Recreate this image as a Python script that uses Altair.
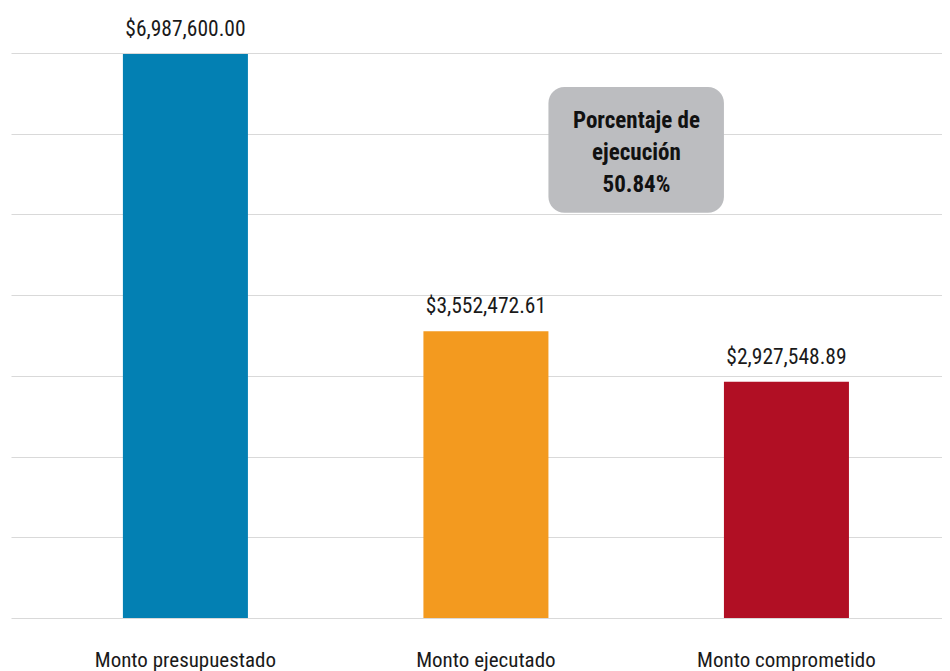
import altair as alt
import pandas as pd

categorias = ["Monto presupuestado", "Monto ejecutado", "Monto comprometido"]
montos = [6987600.00, 3552472.61, 2927548.89]
colores = ["#0380B3", "#F39A1F", "#B10F24"]

nota_texto = ["Porcentaje de", "ejecución", "50.84%"]
nota_inicio = "Monto ejecutado"
nota_fin = "Monto comprometido"
nota_y_sup = 6580000
nota_y_inf = 5020000
nota_y_texto = 6071000

FUENTE = "Roboto Condensed, DejaVu Sans Condensed, sans-serif"

df = pd.DataFrame({"categoria": categorias, "monto": montos, "color": colores})
nota = pd.DataFrame({"inicio": [nota_inicio], "fin": [nota_fin],
                     "ysup": [nota_y_sup], "yinf": [nota_y_inf], "yt": [nota_y_texto],
                     "texto": [nota_texto]})

xscale = alt.Scale(domain=categorias, paddingInner=0.584, paddingOuter=0.341, align=0.546)
yscale = alt.Scale(domain=[0, 7000000], nice=False)

x_enc = alt.X("categoria:N", sort=categorias, scale=xscale, title=None,
              axis=alt.Axis(labelAngle=0, domain=False, ticks=False, labelPadding=48,
                            labelBaseline="alphabetic", labelFont=FUENTE, labelFontSize=21,
                            labelColor="#1a1a1a", labelLimit=0, grid=False))
y_enc = alt.Y("monto:Q", scale=yscale, title=None,
              axis=alt.Axis(values=[i * 1000000 for i in range(8)], labels=False, ticks=False,
                            domain=False, grid=True, gridColor="#d9d9d9", gridWidth=1))

barras = alt.Chart(df).mark_bar().encode(
    x=x_enc, y=y_enc,
    color=alt.Color("color:N", scale=None),
)

valores = alt.Chart(df).mark_text(baseline="alphabetic", dy=-18, font=FUENTE, fontSize=21.5,
                                   color="#1a1a1a").encode(
    x=alt.X("categoria:N", sort=categorias, scale=xscale),
    y=alt.Y("monto:Q", scale=yscale),
    text=alt.Text("monto:Q", format="$,.2f"),
)

caja = alt.Chart(nota).mark_rect(cornerRadius=16, color="#BCBDC0").encode(
    x=alt.X("inicio:N", scale=xscale, bandPosition=1),
    x2=alt.X2("fin:N", bandPosition=0),
    y=alt.Y("ysup:Q", scale=yscale),
    y2="yinf:Q",
)

texto = alt.Chart(nota).mark_text(font=FUENTE, fontSize=23, fontWeight="bold", color="#111111",
                                  baseline="alphabetic", lineHeight=32, dx=88).encode(
    x=alt.X("inicio:N", scale=xscale, bandPosition=1),
    y=alt.Y("yt:Q", scale=yscale),
    text="texto",
)

chart = alt.layer(barras, valores, caja, texto).properties(
    width=931, height=565,
    autosize=alt.AutoSizeParams(type="none"),
    padding={"left": 3, "top": 45, "right": 0, "bottom": 53},
).configure_view(stroke=None)

chart.save("out.html", embed_options={"renderer": "svg", "actions": False})
